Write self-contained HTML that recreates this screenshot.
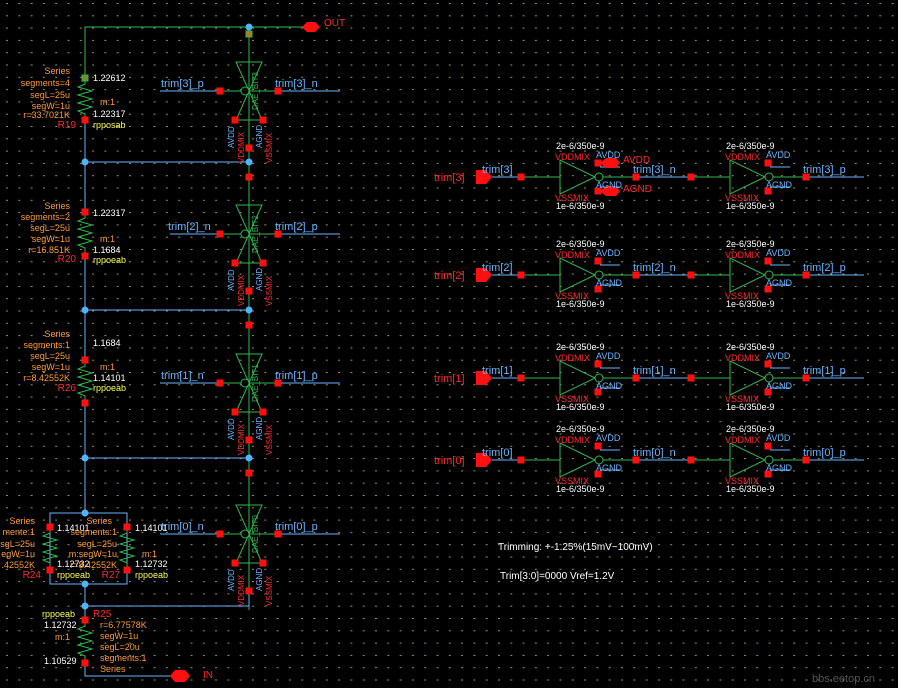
<!DOCTYPE html>
<html><head><meta charset="utf-8"><style>
html,body{margin:0;padding:0;background:#000;}
svg{display:block;font-family:"Liberation Sans",sans-serif;}
.b{fill:#6ab4ff;font-size:11px}
.o{fill:#ff9a3a;font-size:9px}
.r{fill:#ff2a2a;font-size:10px}
.ri{fill:#ff2a2a;font-size:11px}
.y{fill:#ffff55;font-size:9px}
.w{fill:#fff;font-size:9px}
.wb{fill:#fff;font-size:10px}
</style></head><body>
<svg width="898" height="688" viewBox="0 0 898 688" xmlns="http://www.w3.org/2000/svg">
<defs>
<pattern id="grid" x="6" y="3" width="12.3" height="12.3" patternUnits="userSpaceOnUse">
<rect x="0" y="0" width="2" height="1" fill="#8a9a60"/>
</pattern>
<g id="sq"><rect x="-3.5" y="-3.5" width="7" height="7" fill="#ff1010"/></g>
<g id="tg">
<line x1="-29" y1="0" x2="29" y2="0" stroke="#2fb84f"/>
<polygon points="-13,-29 13,-29 0,0" fill="none" stroke="#2fb84f"/>
<polygon points="-13,29 13,29 0,0" fill="none" stroke="#2fb84f"/>
<circle cx="-4" cy="0" r="4" fill="#000" stroke="#2fb84f"/>
<use href="#sq" x="-29" y="0"/><use href="#sq" x="29" y="0"/>
<use href="#sq" x="-14" y="29"/><use href="#sq" x="14" y="29"/>
<use href="#sq" x="0" y="57"/>
</g>
<g id="inv">
<polygon points="0,-17 0,17 35,0" fill="none" stroke="#2fb84f"/>
<circle cx="39" cy="0" r="4" fill="#000" stroke="#2fb84f"/>
<use href="#sq" x="-39" y="0"/><use href="#sq" x="76" y="0"/>
<use href="#sq" x="38" y="-14"/><use href="#sq" x="38" y="14"/>
<line x1="40" y1="-10" x2="60" y2="-10" stroke="#6ab4ff"/>
<line x1="40" y1="10" x2="60" y2="10" stroke="#6ab4ff"/>
</g>
<g id="res">
<polyline points="0,0 0,6 -7,9 7,13 -7,17 7,21 -7,25 7,29 -7,33 0,36 0,42" fill="none" stroke="#2fb84f"/>
</g>
<g id="row">
<polygon points="476,-7 486,-7 492,0 486,7 476,7" fill="#ff1010"/>
<line x1="492" y1="0" x2="521" y2="0" stroke="#6ab4ff"/><line x1="521" y1="0" x2="560" y2="0" stroke="#2fb84f"/>
<line x1="602" y1="0" x2="636" y2="0" stroke="#2fb84f"/><line x1="636" y1="0" x2="692" y2="0" stroke="#6ab4ff"/>
<line x1="692" y1="0" x2="730" y2="0" stroke="#2fb84f"/><line x1="772" y1="0" x2="806" y2="0" stroke="#2fb84f"/>
<line x1="806" y1="0" x2="864" y2="0" stroke="#6ab4ff"/>
<use href="#inv" x="560" y="0"/><use href="#inv" x="730" y="0"/>
</g>
</defs>
<rect width="898" height="688" fill="#000"/>
<rect width="898" height="688" fill="url(#grid)"/>

<polyline points="305,27 85,27 85,78" fill="none" stroke="#2fb84f"/>
<line x1="85" y1="120" x2="85" y2="214" stroke="#6ab4ff"/>
<line x1="85" y1="258" x2="85" y2="362" stroke="#6ab4ff"/>
<line x1="85" y1="406" x2="85" y2="513" stroke="#6ab4ff"/>
<rect x="50" y="513" width="77" height="71" fill="none" stroke="#6ab4ff"/>
<line x1="85" y1="584" x2="85" y2="620" stroke="#6ab4ff"/>
<polyline points="85,663 85,676 180,676" fill="none" stroke="#6ab4ff"/>
<line x1="249" y1="27" x2="249" y2="610" stroke="#2fb84f"/>
<g stroke="#6ab4ff">
<line x1="85" y1="162" x2="249" y2="162"/>
<line x1="85" y1="310" x2="249" y2="310"/>
<line x1="85" y1="458" x2="249" y2="458"/>
<polyline points="85,606 249,606 249,590" fill="none"/>
</g>
<g fill="#4fb4ff">
<circle cx="249" cy="27" r="3.5"/><circle cx="85" cy="162" r="3.5"/><circle cx="249" cy="162" r="3.5"/>
<circle cx="85" cy="310" r="3.5"/><circle cx="249" cy="310" r="3.5"/>
<circle cx="85" cy="458" r="3.5"/><circle cx="249" cy="458" r="3.5"/>
<circle cx="85" cy="513" r="3.5"/><circle cx="85" cy="584" r="3.5"/><circle cx="85" cy="606" r="3.5"/>
</g>
<rect x="246" y="31" width="6" height="6" fill="#c07020" stroke="#2fb84f"/>
<polygon points="302,27 307,22 315,22 320,27 315,32 307,32" fill="#ff1010"/>
<text x="324" y="26" class="r">OUT</text>
<polygon points="170,676 175,670 185,670 190,676 185,682 175,682" fill="#ff1010"/>
<text x="203" y="678" class="r">IN</text>

<g stroke="#6ab4ff">
<line x1="160" y1="91" x2="220" y2="91"/><line x1="278" y1="91" x2="340" y2="91"/>
<line x1="170" y1="234" x2="220" y2="234"/><line x1="278" y1="234" x2="340" y2="234"/>
<line x1="160" y1="383" x2="220" y2="383"/><line x1="278" y1="383" x2="340" y2="383"/>
<line x1="160" y1="534" x2="220" y2="534"/><line x1="278" y1="534" x2="340" y2="534"/>
</g>
<use href="#tg" x="249" y="91"/>
<use href="#tg" x="249" y="234"/>
<use href="#tg" x="249" y="383"/>
<use href="#tg" x="249" y="534"/>
<use href="#sq" x="249" y="177"/><use href="#sq" x="249" y="325"/><use href="#sq" x="249" y="473"/>
<text x="161" y="87" class="b">trim[3]_p</text><text x="275" y="87" class="b">trim[3]_n</text>
<text x="168" y="230" class="b">trim[2]_n</text><text x="275" y="230" class="b">trim[2]_p</text>
<text x="161" y="379" class="b">trim[1]_n</text><text x="275" y="379" class="b">trim[1]_p</text>
<text x="161" y="530" class="b">trim[0]_n</text><text x="275" y="530" class="b">trim[0]_p</text>
<g font-size="8">
<g transform="translate(0,0)">
<text transform="translate(234,148) rotate(-90)" fill="#6ab4ff">AVDD</text>
<text transform="translate(244,163) rotate(-90)" fill="#ff2a2a">VDDMIX</text>
<text transform="translate(262,148) rotate(-90)" fill="#6ab4ff">AGND</text>
<text transform="translate(272,163) rotate(-90)" fill="#ff2a2a">VSSMIX</text>
<text transform="translate(258,110) rotate(-90)" fill="#2fb84f">DAE_BIT3</text>
</g>
<g transform="translate(0,143)">
<text transform="translate(234,148) rotate(-90)" fill="#6ab4ff">AVDD</text>
<text transform="translate(244,163) rotate(-90)" fill="#ff2a2a">VDDMIX</text>
<text transform="translate(262,148) rotate(-90)" fill="#6ab4ff">AGND</text>
<text transform="translate(272,163) rotate(-90)" fill="#ff2a2a">VSSMIX</text>
<text transform="translate(258,110) rotate(-90)" fill="#2fb84f">DAE_BIT2</text>
</g>
<g transform="translate(0,292)">
<text transform="translate(234,148) rotate(-90)" fill="#6ab4ff">AVDD</text>
<text transform="translate(244,163) rotate(-90)" fill="#ff2a2a">VDDMIX</text>
<text transform="translate(262,148) rotate(-90)" fill="#6ab4ff">AGND</text>
<text transform="translate(272,163) rotate(-90)" fill="#ff2a2a">VSSMIX</text>
<text transform="translate(258,110) rotate(-90)" fill="#2fb84f">DAE_BIT1</text>
</g>
<g transform="translate(0,443)">
<text transform="translate(234,148) rotate(-90)" fill="#6ab4ff">AVDD</text>
<text transform="translate(244,163) rotate(-90)" fill="#ff2a2a">VDDMIX</text>
<text transform="translate(262,148) rotate(-90)" fill="#6ab4ff">AGND</text>
<text transform="translate(272,163) rotate(-90)" fill="#ff2a2a">VSSMIX</text>
<text transform="translate(258,110) rotate(-90)" fill="#2fb84f">DAE_BIT0</text>
</g>
</g>

<use href="#res" x="85" y="78"/><rect x="82" y="75" width="6" height="6" fill="#7a8a30" stroke="#2fb84f"/><use href="#sq" x="85" y="120"/>
<text x="70" y="74" class="o" text-anchor="end">Series</text>
<text x="70" y="86" class="o" text-anchor="end">segments=4</text>
<text x="70" y="98" class="o" text-anchor="end">segL=25u</text>
<text x="70" y="109" class="o" text-anchor="end">segW=1u</text>
<text x="70" y="118" class="o" text-anchor="end">r=33.7021K</text>
<text x="76" y="128" class="r" text-anchor="end">R19</text>
<text x="93" y="81" class="w">1.22612</text><text x="100" y="105" class="o">m:1</text>
<text x="93" y="117" class="w">1.22317</text><text x="93" y="128" class="y">rpposab</text>

<use href="#res" x="85" y="212"/><use href="#sq" x="85" y="212"/><use href="#sq" x="85" y="256"/>
<text x="70" y="209" class="o" text-anchor="end">Series</text>
<text x="70" y="220" class="o" text-anchor="end">segments=2</text>
<text x="70" y="231" class="o" text-anchor="end">segL=25u</text>
<text x="70" y="242" class="o" text-anchor="end">segW=1u</text>
<text x="70" y="253" class="o" text-anchor="end">r=16.851K</text>
<text x="76" y="262" class="r" text-anchor="end">R20</text>
<text x="93" y="216" class="w">1.22317</text><text x="100" y="242" class="o">m:1</text>
<text x="93" y="253" class="w">1.1684</text><text x="93" y="263" class="y">rppoeab</text>

<use href="#res" x="85" y="360"/><use href="#sq" x="85" y="360"/><use href="#sq" x="85" y="403"/>
<text x="70" y="337" class="o" text-anchor="end">Series</text>
<text x="70" y="348" class="o" text-anchor="end">segments:1</text>
<text x="70" y="359" class="o" text-anchor="end">segL=25u</text>
<text x="70" y="370" class="o" text-anchor="end">segW=1u</text>
<text x="70" y="381" class="o" text-anchor="end">r=8.42552K</text>
<text x="76" y="391" class="r" text-anchor="end">R26</text>
<text x="93" y="346" class="w">1.1684</text><text x="100" y="370" class="o">m:1</text>
<text x="93" y="381" class="w">1.14101</text><text x="93" y="391" class="y">rppoeab</text>

<use href="#res" x="50" y="527"/><use href="#sq" x="50" y="527"/><use href="#sq" x="50" y="570"/>
<use href="#res" x="127" y="527"/><use href="#sq" x="127" y="527"/><use href="#sq" x="127" y="570"/>
<text x="35" y="524" class="o" text-anchor="end">Series</text>
<text x="35" y="535" class="o" text-anchor="end">mente:1</text>
<text x="35" y="547" class="o" text-anchor="end">sgL=25u</text>
<text x="35" y="557" class="o" text-anchor="end">egW=1u</text>
<text x="35" y="568" class="o" text-anchor="end">.42552K</text>
<text x="41" y="578" class="r" text-anchor="end">R24</text>
<text x="57" y="531" class="w">1.14101</text><text x="57" y="567" class="w">1.12732</text>
<text x="57" y="578" class="y">rppoeab</text>
<text x="112" y="524" class="o" text-anchor="end">Series</text>
<text x="117" y="535" class="o" text-anchor="end">segments:1</text>
<text x="117" y="547" class="o" text-anchor="end">segL=25u</text>
<text x="117" y="557" class="o" text-anchor="end">m:segW=1u</text>
<text x="117" y="568" class="o" text-anchor="end">r=8.42552K</text>
<text x="120" y="578" class="r" text-anchor="end">R27</text>
<text x="135" y="531" class="w">1.14101</text><text x="142" y="557" class="o">m:1</text>
<text x="135" y="567" class="w">1.12732</text><text x="135" y="578" class="y">rppoeab</text>

<use href="#res" x="85" y="620"/><use href="#sq" x="85" y="620"/><use href="#sq" x="85" y="663"/>
<text x="42" y="617" class="y">rppoeab</text><text x="93" y="617" class="r">R25</text>
<text x="44" y="628" class="w">1.12732</text><text x="100" y="628" class="o">r=6.77578K</text>
<text x="55" y="640" class="o">m:1</text><text x="100" y="639" class="o">segW=1u</text>
<text x="100" y="650" class="o">segL=20u</text>
<text x="44" y="664" class="w">1.10529</text><text x="100" y="661" class="o">segments:1</text>
<text x="100" y="672" class="o">Series</text>

<use href="#row" x="0" y="177"/>
<use href="#row" x="0" y="275"/>
<use href="#row" x="0" y="378"/>
<use href="#row" x="0" y="460"/>
<polygon points="600,163 606,158 616,158 620,163 616,168 606,168" fill="#ff1010"/>
<polygon points="600,191 606,186 616,186 620,191 616,196 606,196" fill="#ff1010"/>
<text x="623" y="163" class="r">AVDD</text><text x="623" y="192" class="r">AGND</text>

<text x="434" y="181" class="ri">trim[3]</text><text x="482" y="173" class="b">trim[3]</text>
<text x="434" y="279" class="ri">trim[2]</text><text x="482" y="271" class="b">trim[2]</text>
<text x="434" y="382" class="ri">trim[1]</text><text x="482" y="374" class="b">trim[1]</text>
<text x="434" y="464" class="ri">trim[0]</text><text x="482" y="456" class="b">trim[0]</text>
<text x="633" y="173" class="b">trim[3]_n</text><text x="803" y="173" class="b">trim[3]_p</text>
<text x="633" y="271" class="b">trim[2]_n</text><text x="803" y="271" class="b">trim[2]_p</text>
<text x="633" y="374" class="b">trim[1]_n</text><text x="803" y="374" class="b">trim[1]_p</text>
<text x="633" y="456" class="b">trim[0]_n</text><text x="803" y="456" class="b">trim[0]_p</text>
<g font-size="9">
<g transform="translate(0,0)">
<text x="556" y="149" fill="#fff">2e-6/350e-9</text><text x="726" y="149" fill="#fff">2e-6/350e-9</text>
<text x="555" y="160" fill="#ff2a2a">VDDMIX</text><text x="725" y="160" fill="#ff2a2a">VDDMIX</text>
<text x="596" y="158" fill="#6ab4ff">AVDD</text><text x="766" y="158" fill="#6ab4ff">AVDD</text>
<text x="596" y="188" fill="#6ab4ff">AGND</text><text x="766" y="188" fill="#6ab4ff">AGND</text>
<text x="555" y="201" fill="#ff2a2a">VSSMIX</text><text x="725" y="201" fill="#ff2a2a">VSSMIX</text>
<text x="556" y="209" fill="#fff">1e-6/350e-9</text><text x="726" y="209" fill="#fff">1e-6/350e-9</text>
</g>
<g transform="translate(0,98)">
<text x="556" y="149" fill="#fff">2e-6/350e-9</text><text x="726" y="149" fill="#fff">2e-6/350e-9</text>
<text x="555" y="160" fill="#ff2a2a">VDDMIX</text><text x="725" y="160" fill="#ff2a2a">VDDMIX</text>
<text x="596" y="158" fill="#6ab4ff">AVDD</text><text x="766" y="158" fill="#6ab4ff">AVDD</text>
<text x="596" y="188" fill="#6ab4ff">AGND</text><text x="766" y="188" fill="#6ab4ff">AGND</text>
<text x="555" y="201" fill="#ff2a2a">VSSMIX</text><text x="725" y="201" fill="#ff2a2a">VSSMIX</text>
<text x="556" y="209" fill="#fff">1e-6/350e-9</text><text x="726" y="209" fill="#fff">1e-6/350e-9</text>
</g>
<g transform="translate(0,201)">
<text x="556" y="149" fill="#fff">2e-6/350e-9</text><text x="726" y="149" fill="#fff">2e-6/350e-9</text>
<text x="555" y="160" fill="#ff2a2a">VDDMIX</text><text x="725" y="160" fill="#ff2a2a">VDDMIX</text>
<text x="596" y="158" fill="#6ab4ff">AVDD</text><text x="766" y="158" fill="#6ab4ff">AVDD</text>
<text x="596" y="188" fill="#6ab4ff">AGND</text><text x="766" y="188" fill="#6ab4ff">AGND</text>
<text x="555" y="201" fill="#ff2a2a">VSSMIX</text><text x="725" y="201" fill="#ff2a2a">VSSMIX</text>
<text x="556" y="209" fill="#fff">1e-6/350e-9</text><text x="726" y="209" fill="#fff">1e-6/350e-9</text>
</g>
<g transform="translate(0,283)">
<text x="556" y="149" fill="#fff">2e-6/350e-9</text><text x="726" y="149" fill="#fff">2e-6/350e-9</text>
<text x="555" y="160" fill="#ff2a2a">VDDMIX</text><text x="725" y="160" fill="#ff2a2a">VDDMIX</text>
<text x="596" y="158" fill="#6ab4ff">AVDD</text><text x="766" y="158" fill="#6ab4ff">AVDD</text>
<text x="596" y="188" fill="#6ab4ff">AGND</text><text x="766" y="188" fill="#6ab4ff">AGND</text>
<text x="555" y="201" fill="#ff2a2a">VSSMIX</text><text x="725" y="201" fill="#ff2a2a">VSSMIX</text>
<text x="556" y="209" fill="#fff">1e-6/350e-9</text><text x="726" y="209" fill="#fff">1e-6/350e-9</text>
</g>
</g>

<text x="498" y="550" class="wb">Trimming: +-1.25%(15mV~100mV)</text>
<text x="500" y="579" class="wb">Trim[3:0]=0000  Vref=1.2V</text>
<text x="812" y="682" fill="#555" font-size="11">bbs.eetop.cn</text>
</svg>
</body></html>
